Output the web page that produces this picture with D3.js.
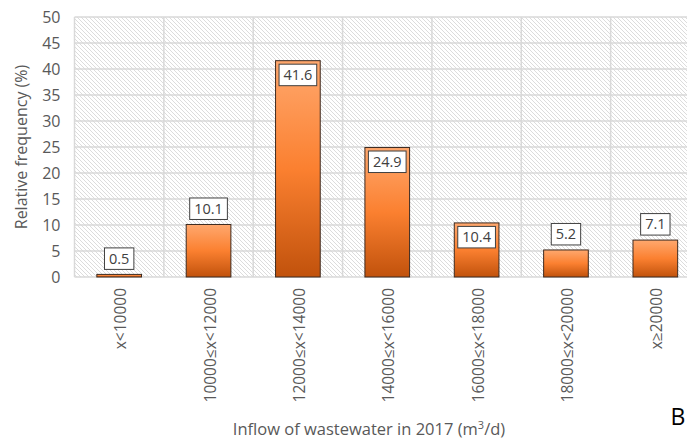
<!DOCTYPE html>
<html>
<head>
<meta charset="utf-8">
<script src="https://cdn.jsdelivr.net/npm/d3@7"></script>
<style>
  html, body { margin: 0; padding: 0; background: #fff; overflow: hidden; }
  svg { display: block; font-family: "Open Sans", "Noto Sans", sans-serif; }
</style>
</head>
<body>
<svg id="chart" width="687" height="439"></svg>
<script>
// Inflow classes (m³/d) and relative frequency (%)
const categories = ["x<10000", "10000≤x<12000", "12000≤x<14000", "14000≤x<16000",
                    "16000≤x<18000", "18000≤x<20000", "x≥20000"];
const frequencies = [0.5, 10.1, 41.6, 24.9, 10.4, 5.2, 7.1];
const yTicks = [0, 5, 10, 15, 20, 25, 30, 35, 40, 45, 50];
// labels drawn inside the top of the bar instead of above it
const insideLabels = ["12000≤x<14000", "14000≤x<16000", "16000≤x<18000"];

const svg = d3.select("#chart");
const plot = { left: 74.5, right: 700, top: 17, bottom: 277 };

const x = d3.scaleBand().domain(categories).range([plot.left, plot.right]).paddingInner(0.5).paddingOuter(0.25);
const y = d3.scaleLinear().domain([0, 50]).range([plot.bottom, plot.top]);

const defs = svg.append("defs");

// diagonal hatch for the plot background
const hatch = defs.append("pattern")
  .attr("id", "hatch").attr("patternUnits", "userSpaceOnUse")
  .attr("width", 4).attr("height", 4);
hatch.append("rect").attr("width", 4).attr("height", 4).attr("fill", "#ffffff");
hatch.append("path").attr("d", "M-1,-1 L5,5 M-1,3 L1,5 M3,-1 L5,1")
  .attr("stroke", "#dcdcdc").attr("stroke-width", 1);

// orange bar gradient, light at the top, dark at the bottom
const grad = defs.append("linearGradient").attr("id", "barGrad")
  .attr("x1", 0).attr("y1", 0).attr("x2", 0).attr("y2", 1);
grad.append("stop").attr("offset", "0%").attr("stop-color", "#ffa86e");
grad.append("stop").attr("offset", "50%").attr("stop-color", "#fb8030");
grad.append("stop").attr("offset", "100%").attr("stop-color", "#c1520c");

svg.append("rect")
  .attr("x", plot.left).attr("y", plot.top)
  .attr("width", plot.right - plot.left).attr("height", plot.bottom - plot.top)
  .attr("fill", "url(#hatch)");

// horizontal gridlines
svg.append("g").selectAll("line").data(yTicks).join("line")
  .attr("x1", plot.left).attr("x2", plot.right)
  .attr("y1", d => y(d)).attr("y2", d => y(d))
  .attr("stroke", "#d9d9d9").attr("stroke-width", 1.5);

// vertical gridlines at category boundaries
const step = x.step();
const bounds = d3.range(categories.length + 1).map(i => plot.left + i * step);
svg.append("g").selectAll("line").data(bounds).join("line")
  .attr("x1", d => d).attr("x2", d => d)
  .attr("y1", plot.top).attr("y2", plot.bottom)
  .attr("stroke", "#d9d9d9").attr("stroke-width", 1.5);

// y axis
const yAxis = svg.append("g")
  .attr("transform", `translate(${plot.left},0)`)
  .call(d3.axisLeft(y).tickValues(yTicks).tickSize(0).tickPadding(14));
yAxis.select(".domain").remove();
yAxis.selectAll("text").attr("font-size", 16).attr("fill", "#595959")
  .attr("font-family", "'Open Sans', sans-serif");

// x axis with rotated category labels
const xAxis = svg.append("g")
  .attr("transform", `translate(0,${plot.bottom})`)
  .call(d3.axisBottom(x).tickSize(0).tickPadding(0));
xAxis.select(".domain").remove();
xAxis.selectAll("text")
  .attr("font-size", 15.5).attr("fill", "#595959")
  .attr("font-family", "'Open Sans', sans-serif")
  .attr("text-anchor", "end")
  .attr("dy", null).attr("y", 0)
  .attr("transform", "translate(7,11) rotate(-90)");

// bars
svg.append("g").selectAll("rect").data(frequencies).join("rect")
  .attr("x", (d, i) => x(categories[i]))
  .attr("y", d => y(d))
  .attr("width", x.bandwidth())
  .attr("height", d => y(0) - y(d))
  .attr("fill", "url(#barGrad)")
  .attr("stroke", "#3c2a20").attr("stroke-width", 1);

// value labels in white boxes
const labels = svg.append("g").selectAll("g").data(frequencies).join("g");
labels.each(function (d, i) {
  const g = d3.select(this);
  const cx = x(categories[i]) + x.bandwidth() / 2;
  const txt = g.append("text")
    .attr("text-anchor", "middle")
    .attr("font-size", 14.5).attr("fill", "#404040")
    .attr("font-family", "'Open Sans', sans-serif")
    .text(d3.format(".1f")(d));
  const w = txt.node().getComputedTextLength() + 9;
  const h = 21.5;
  const inside = insideLabels.includes(categories[i]);
  const top = inside ? y(d) + 3.5 : y(d) - 5 - h;
  g.insert("rect", "text")
    .attr("x", cx - w / 2).attr("y", top)
    .attr("width", w).attr("height", h)
    .attr("fill", "#ffffff").attr("stroke", "#404040").attr("stroke-width", 1);
  txt.attr("x", cx).attr("y", top + h / 2 + 5);
});

// axis titles
svg.append("text")
  .attr("transform", `translate(27,${(plot.top + plot.bottom) / 2}) rotate(-90)`)
  .attr("text-anchor", "middle")
  .attr("font-size", 16).attr("fill", "#595959")
  .text("Relative frequency (%)");

const xt = svg.append("text")
  .attr("x", 369).attr("y", 435)
  .attr("text-anchor", "middle")
  .attr("font-size", 16.5).attr("fill", "#595959");
xt.append("tspan").text("Inflow of wastewater in 2017 (m");
xt.append("tspan").attr("font-size", 11).attr("dy", -6).text("3");
xt.append("tspan").attr("dy", 6).text("/d)");

svg.append("text")
  .attr("x", 678).attr("y", 425)
  .attr("text-anchor", "middle")
  .attr("font-size", 23).attr("fill", "#000000")
  .text("B");
</script>
</body>
</html>
